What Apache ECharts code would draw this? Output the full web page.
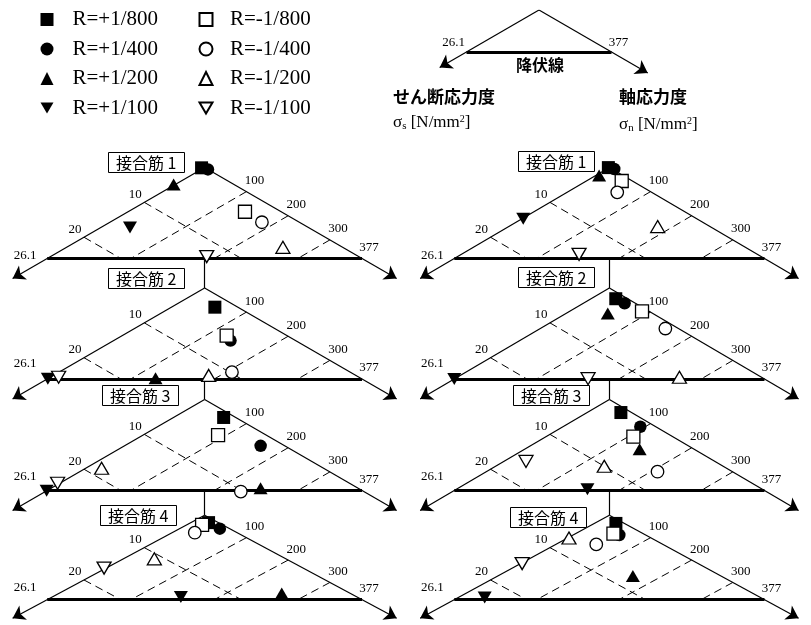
<!DOCTYPE html>
<html>
<head>
<meta charset="utf-8">
<script src="https://cdn.jsdelivr.net/npm/echarts@6.0.0/dist/echarts.min.js"></script>
<style>
  html, body { margin: 0; padding: 0; background: #fff; }
  #chart { width: 811px; height: 625px; }
</style>
</head>
<body>
<div id="chart"></div>
<script>
// Yield values at the ends of the two stress axes
const shearYield = 26.1;   // σs [N/mm2]
const axialYield = 377;    // σn [N/mm2]
const shearTicks = [10, 20];
const axialTicks = [100, 200, 300];
const barNames = ['接合筋 1', '接合筋 2', '接合筋 3', '接合筋 4'];
const seriesNames = ['R=+1/800', 'R=+1/400', 'R=+1/200', 'R=+1/100',
                     'R=-1/800', 'R=-1/400', 'R=-1/200', 'R=-1/100'];

// Stress pairs per panel, order: left column 接合筋1..4, right column 接合筋1..4
const shearP800 = [0.3, 1.9, 1.0, 0.8, 0.1, 1.0, 0.9, 0.7];
const axialP800 = [-3, 52, 60, 21, -1, 30, 41, 26];
const shearP400 = [0.0, 5.4, 2.0, 0.8, -0.2, 0.9, 1.3, 2.2];
const axialP400 = [8, 140, 163, 48, 9, 50, 94, 56];
const shearP200 = [5.0, 17.0, 8.1, 5.7, 2.0, 3.8, 4.6, 7.4];
const axialP200 = [-2, 128, 251, 267, 4, 51, 140, 164];
const shearP100 = [14.8, 26.0, 26.2, 14.6, 14.6, 26.1, 14.7, 23.2];
const axialP100 = [35, 0, 0, 154, 1.5, 0, 159, 32];
const shearM800 = [3.0, 5.0, 4.0, 1.7, 0.9, 0.6, 3.3, 2.5];
const axialM800 = [140, 125, 90, 18.5, 43, 88, 106, 46];
const shearM400 = [3.1, 9.8, 10.2, 3.5, 2.9, 1.1, 6.3, 5.6];
const axialM400 = [182, 207, 234, 27, 61, 152, 208, 49];
const shearM200 = [4.95, 12.2, 18.4, 10.9, 4.4, 6.9, 10.0, 6.9];
const axialM200 = [259, 186, 19, 37, 181, 270, 132, 1.5];
const shearM100 = [12.6, 24.9, 24.2, 16.5, 15.0, 14.8, 15.9, 14.8];
const axialM100 = [187, 10, -2.6, -2.5, 143, 162, 27, 1.7];

const DOWN_TRI = 'path://M0,0L14,0L7,12Z';
const markerDefs = [
  { name: seriesNames[0], shear: shearP800, axial: axialP800, symbol: 'rect',     size: 13,       filled: true },
  { name: seriesNames[1], shear: shearP400, axial: axialP400, symbol: 'circle',   size: 12.5,     filled: true },
  { name: seriesNames[2], shear: shearP200, axial: axialP200, symbol: 'triangle', size: [14, 12], filled: true },
  { name: seriesNames[3], shear: shearP100, axial: axialP100, symbol: DOWN_TRI,   size: [14, 12], filled: true },
  { name: seriesNames[4], shear: shearM800, axial: axialM800, symbol: 'rect',     size: 13,       filled: false },
  { name: seriesNames[5], shear: shearM400, axial: axialM400, symbol: 'circle',   size: 12.5,     filled: false },
  { name: seriesNames[6], shear: shearM200, axial: axialM200, symbol: 'triangle', size: [14, 12], filled: false },
  { name: seriesNames[7], shear: shearM100, axial: axialM100, symbol: DOWN_TRI,   size: [14, 12], filled: false }
];

// ---- layout of the triangular panels ----
const colCenterX = [204.5, 612.5];
const rowApexY = [167.5, 288, 399.5, 518];
const halfW = 157.5;      // horizontal px for a full-yield axis
const triH = 91;          // vertical px from apex to yield line (30° edges)
const X_RANGE = [-1.3, 1.3];
const Y_RANGE = [-0.4, 1.3];
const AXIS_EXT = 1.22;    // arrow tip as fraction of yield
const boxPos = [[108, 152], [108, 268], [102, 385], [100, 505],
                [518, 151], [518, 267], [513, 385], [510, 507]];
const corner26Dy = [-3, -15, -14, -12];

const SERIF = '"Liberation Serif", "Times New Roman", serif';
const GOTHIC = '"Noto Sans CJK JP", sans-serif';

// normalised (a = σs/26.1, b = σn/377) -> panel plane (u horizontal, v downward)
function uv(a, b) { return [b - a, a + b]; }

const grids = [], xAxes = [], yAxes = [], series = [], titles = [];

function textSeries(idx, items) {
  return {
    type: 'custom', coordinateSystem: 'cartesian2d', xAxisIndex: idx, yAxisIndex: idx,
    silent: true, z: 4, clip: false,
    data: items.map(it => uv(it.a, it.b)),
    renderItem: function (params, api) {
      const it = items[params.dataIndex];
      const p = api.coord([api.value(0), api.value(1)]);
      return {
        type: 'text', x: p[0] + it.dx, y: p[1] + it.dy,
        style: { text: it.text, font: it.font, fill: '#000', align: 'center', verticalAlign: 'middle' }
      };
    }
  };
}

function lineSeries(idx, segs, style, arrow) {
  return {
    type: 'lines', coordinateSystem: 'cartesian2d', xAxisIndex: idx, yAxisIndex: idx,
    silent: true, z: 2,
    symbol: arrow ? ['none', 'arrow'] : ['none', 'none'],
    symbolSize: arrow ? 12 : 0,
    lineStyle: Object.assign({ color: '#000', opacity: 1, curveness: 0 }, style),
    data: segs.map(s => ({ coords: s }))
  };
}

for (let c = 0; c < 2; c++) {
  for (let r = 0; r < 4; r++) {
    const p = c * 4 + r;
    grids.push({
      left: colCenterX[c] + X_RANGE[0] * halfW,
      top: rowApexY[r] + Y_RANGE[0] * triH,
      width: (X_RANGE[1] - X_RANGE[0]) * halfW,
      height: (Y_RANGE[1] - Y_RANGE[0]) * triH,
      containLabel: false, show: false
    });
    xAxes.push({ type: 'value', gridIndex: p, min: X_RANGE[0], max: X_RANGE[1], show: false });
    yAxes.push({ type: 'value', gridIndex: p, min: Y_RANGE[0], max: Y_RANGE[1], inverse: true, show: false });

    // stress axes with arrowheads
    series.push(lineSeries(p, [
      [uv(0, 0), uv(AXIS_EXT, 0)],
      [uv(0, 0), uv(0, AXIS_EXT)]
    ], { width: 1.2 }, true));

    // dashed grid: constant σs and constant σn up to the yield line
    const dashed = [];
    shearTicks.forEach(t => { const a = t / shearYield; dashed.push([uv(a, 0), uv(a, 1 - a)]); });
    axialTicks.forEach(t => { const b = t / axialYield; dashed.push([uv(0, b), uv(1 - b, b)]); });
    series.push(lineSeries(p, dashed, { width: 1, type: [8, 5] }, false));

    // yield line
    series.push(lineSeries(p, [[uv(1, 0), uv(0, 1)]], { width: 3 }, false));

    // connector from the previous panel's yield line
    if (r > 0) {
      const gap = (rowApexY[r] - (rowApexY[r - 1] + triH)) / triH;
      series.push(lineSeries(p, [[[0, -gap], [0, 0]]], { width: 1.2 }, false));
    }

    // tick labels
    const items = [];
    shearTicks.forEach(t => items.push({ a: t / shearYield, b: 0, text: String(t), dx: -9, dy: -8, font: '13px ' + SERIF }));
    items.push({ a: 1, b: 0, text: String(shearYield), dx: -22, dy: corner26Dy[r], font: '13px ' + SERIF });
    axialTicks.forEach(t => items.push({ a: 0, b: t / axialYield, text: String(t), dx: 8, dy: -11, font: '13px ' + SERIF }));
    items.push({ a: 0, b: 1, text: String(axialYield), dx: 7, dy: -11, font: '13px ' + SERIF });
    series.push(textSeries(p, items));

    // measured stresses
    markerDefs.forEach((d, k) => {
      series.push({
        type: 'scatter', name: d.name, xAxisIndex: p, yAxisIndex: p,
        symbol: d.symbol, symbolSize: d.size, symbolKeepAspect: false,
        itemStyle: d.filled
          ? { color: '#000', opacity: 1 }
          : { color: '#fff', borderColor: '#000', borderWidth: 1.3, opacity: 1 },
        z: 3 + k * 0.01, silent: true, clip: false,
        data: [uv(d.shear[p] / shearYield, d.axial[p] / axialYield)]
      });
    });

    titles.push({
      text: barNames[r], left: boxPos[p][0], top: boxPos[p][1],
      padding: [2, 8, 1, 8], borderColor: '#000', borderWidth: 1, backgroundColor: '#fff',
      textStyle: { fontFamily: GOTHIC, fontSize: 16, fontWeight: 'normal', color: '#000', lineHeight: 18 }
    });
  }
}

// ---- explanatory diagram at the top ----
const keyIdx = 8;
const keyApex = [539, 10], keyHalfW = 72.5, keyH = 42;
const KX = [-1.6, 1.6], KY = [0, 1.6];
grids.push({
  left: keyApex[0] + KX[0] * keyHalfW, top: keyApex[1],
  width: (KX[1] - KX[0]) * keyHalfW, height: (KY[1] - KY[0]) * keyH, show: false
});
xAxes.push({ type: 'value', gridIndex: keyIdx, min: KX[0], max: KX[1], show: false });
yAxes.push({ type: 'value', gridIndex: keyIdx, min: KY[0], max: KY[1], inverse: true, show: false });
series.push(lineSeries(keyIdx, [
  [uv(0, 0), uv(1.37, 0)],
  [uv(0, 0), uv(0, 1.5)]
], { width: 1.2 }, true));
series.push(lineSeries(keyIdx, [[uv(1, 0), uv(0, 1)]], { width: 3 }, false));
series.push(textSeries(keyIdx, [
  { a: 1, b: 0, text: String(shearYield), dx: -13, dy: -9, font: '13px ' + SERIF },
  { a: 0, b: 1, text: String(axialYield), dx: 7, dy: -9, font: '13px ' + SERIF },
  { a: 0.5, b: 0.5, text: '降伏線', dx: 1, dy: 13, font: 'bold 16px ' + GOTHIC }
]));

const legendBase = {
  orient: 'vertical', top: 8.5, itemWidth: 13, itemHeight: 13, itemGap: 7.5,
  selectedMode: false, padding: 0,
  textStyle: { fontFamily: SERIF, fontSize: 21, color: '#000', lineHeight: 22, padding: [0, 0, 0, 14] }
};

const legendItems = (names) => names.map(n => {
  const d = markerDefs.find(m => m.name === n);
  return d.symbol === DOWN_TRI ? { name: n, icon: DOWN_TRI } : { name: n };
});

const rich = {
  g: { font: '17px ' + SERIF, fill: '#000' },
  s: { font: '11px ' + SERIF, fill: '#000', verticalAlign: 'bottom' },
  t: { font: '17px ' + SERIF, fill: '#000' },
  p: { font: '10px ' + SERIF, fill: '#000', verticalAlign: 'top' }
};

const option = {
  animation: false,
  backgroundColor: '#fff',
  title: titles,
  grid: grids,
  xAxis: xAxes,
  yAxis: yAxes,
  legend: [
    Object.assign({}, legendBase, { left: 40.5, data: legendItems(seriesNames.slice(0, 4)) }),
    Object.assign({}, legendBase, {
      left: 198.5,
      textStyle: Object.assign({}, legendBase.textStyle, { padding: [0, 0, 0, 12.5] }),
      data: legendItems(seriesNames.slice(4))
    })
  ],
  graphic: [
    { type: 'text', x: 393, y: 97, style: { text: 'せん断応力度', font: 'bold 17px ' + GOTHIC, fill: '#000', verticalAlign: 'middle' } },
    { type: 'text', x: 619, y: 97, style: { text: '軸応力度', font: 'bold 17px ' + GOTHIC, fill: '#000', verticalAlign: 'middle' } },
    { type: 'text', x: 393, y: 123, style: { text: '{g|σ}{s|s}{t| [N/mm}{p|2}{t|]}', rich: rich, verticalAlign: 'middle' } },
    { type: 'text', x: 619, y: 125, style: { text: '{g|σ}{s|n}{t| [N/mm}{p|2}{t|]}', rich: rich, verticalAlign: 'middle' } }
  ],
  series: series
};

const chart = echarts.init(document.getElementById('chart'), null, { renderer: 'canvas' });
chart.setOption(option);
</script>
</body>
</html>
